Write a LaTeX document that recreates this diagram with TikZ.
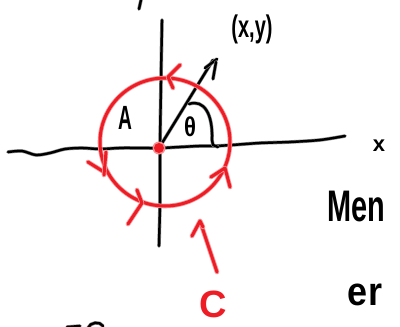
\documentclass[tikz,border=0pt]{standalone}
\usepackage{fontspec}
\setmainfont{Liberation Sans}
\definecolor{inkred}{RGB}{238,28,36}
\tikzset{
  ink/.style={draw=black, line width=2.4pt, line cap=round, line join=round,
    preaction={draw=black!45, line width=3.6pt, line cap=round, line join=round}},
  redink/.style={draw=inkred, line width=3pt, line cap=round, line join=round,
    preaction={draw=inkred!45, line width=4.6pt, line cap=round, line join=round}},
  lbl/.style={inner sep=0pt, text=black},
}
\begin{document}
\begin{tikzpicture}[x=1pt,y=-1pt]
\useasboundingbox[fill=white] (0,0) rectangle (400,327);
% named points
\coordinate (O) at (159,148);
\coordinate (P) at (213,60);
% partial stroke at top
\draw[ink] (141,0) -- (139,9);
% vertical axis
\draw[ink] plot[smooth] coordinates {(162,20) (161,80) (160,150) (160,200) (159,246)};
% horizontal axis (wavy)
\draw[ink] plot[smooth] coordinates {(8,152) (22,151) (36,155) (50,153) (65,149) (82,148) (100,149) (120,148) (140,148) (160,148) (180,147) (200,146) (215,146) (232,145) (260,143) (290,142) (320,140) (345,136)};
% x label
\node[lbl, font=\bfseries\fontsize{22}{22}\selectfont] (xl) at (379,146) {x};
% radius vector
\draw[ink] (O) -- (P);
\draw[ink] (205,68) -- (217,59);
\draw[ink] (216,62) -- (213,79);
% theta arc
\draw[ink] (189,104) .. controls (204,99) and (213,114) .. (212,140) -- (213,145) -- (218,147);
\node[lbl, font=\bfseries\fontsize{26}{26}\selectfont] (th) at (190,127) {\scalebox{0.85}[1.05]{θ}};
\node[lbl, font=\bfseries\fontsize{32}{32}\selectfont] (A) at (125,118) {\scalebox{0.6}[1.05]{A}};
\node[lbl, font=\bfseries\fontsize{25}{25}\selectfont] (xy) at (252,29) {\scalebox{0.8}[1.25]{(x,y)}};
% red circle
\draw[redink] (165,142) ellipse [x radius=65pt, y radius=64pt];
% circle arrowheads
\draw[redink] (180,65) -- (168,77) -- (173,88);
\draw[redink] (88,162) -- (104,172);
\draw[redink] (106,152) -- (104,175);
\draw[redink] (137,190) -- (142,203) -- (128,224);
\draw[redink] (211,177) -- (225,168) -- (230,187);
% origin dot
\fill[inkred!50] (O) circle (6.5pt);
\fill[inkred] (O) circle (5pt);
% red pointer
\coordinate (ptail) at (217,272);
\coordinate (phead) at (200,221);
\draw[redink] (ptail) -- (phead);
\draw[redink] (192,236) -- (phead) -- (203,227);
\node[lbl, text=inkred, font=\bfseries\fontsize{38}{38}\selectfont] (C) at (213,304) {C};
% right words
\node[lbl, font=\bfseries\fontsize{34}{34}\selectfont] (men) at (356,207) {\scalebox{0.85}[1.3]{Men}};
\node[lbl, font=\bfseries\fontsize{40}{40}\selectfont] (er) at (365,295) {\scalebox{0.9}[1]{er}};
% bottom-left partial strokes
\draw[ink] (67,327) -- (80,326);
\draw[ink] (88,328) .. controls (90,322) and (100,321) .. (103,326);
\end{tikzpicture}
\end{document}
